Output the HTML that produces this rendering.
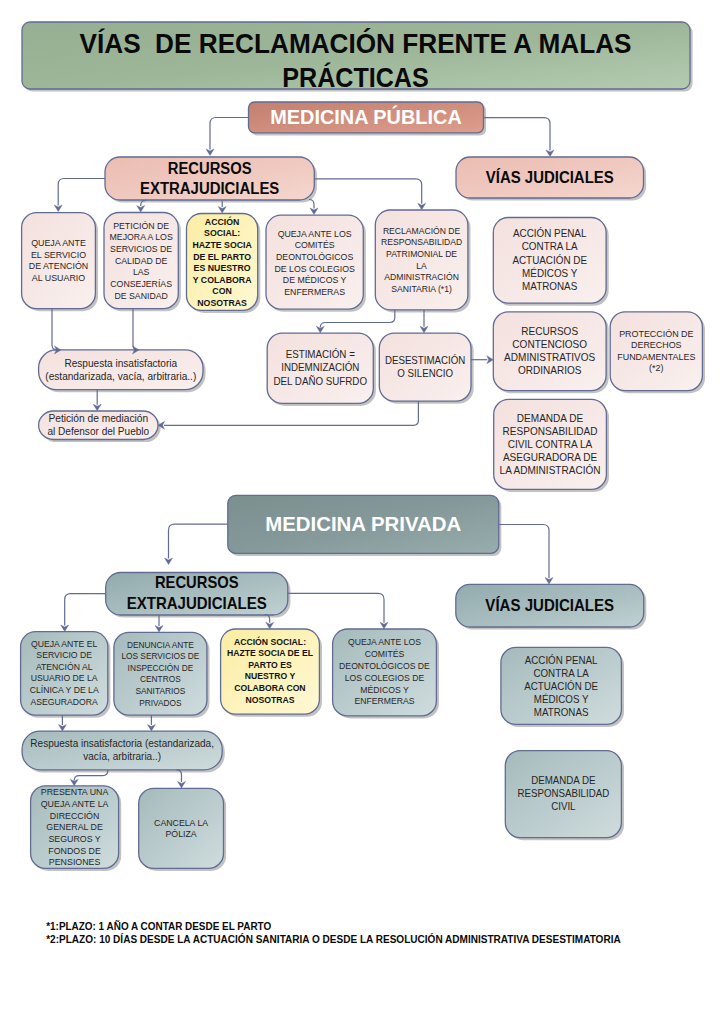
<!DOCTYPE html><html><head><meta charset="utf-8"><style>html,body{margin:0;padding:0;background:#fff;}svg{display:block;}text{font-family:"Liberation Sans",sans-serif;white-space:pre;}</style></head><body>
<svg width="724" height="1024" viewBox="0 0 724 1024">
<defs>
<linearGradient id="g_green" x1="0" y1="0" x2="1" y2="1"><stop offset="0" stop-color="#96af92"/><stop offset="0.5" stop-color="#9db698"/><stop offset="1" stop-color="#b4cbb1"/></linearGradient>
<linearGradient id="g_salmon" x1="0" y1="0" x2="1" y2="1"><stop offset="0" stop-color="#c5806f"/><stop offset="0.5" stop-color="#d08e7d"/><stop offset="1" stop-color="#de9e8c"/></linearGradient>
<linearGradient id="g_pink" x1="0" y1="0" x2="1" y2="1"><stop offset="0" stop-color="#ebbdb2"/><stop offset="0.5" stop-color="#efc8bf"/><stop offset="1" stop-color="#f4d7cf"/></linearGradient>
<linearGradient id="g_lpink" x1="0" y1="0" x2="1" y2="1"><stop offset="0" stop-color="#f4e1de"/><stop offset="0.5" stop-color="#f6e8e6"/><stop offset="1" stop-color="#f9f0ee"/></linearGradient>
<linearGradient id="g_yellow" x1="0" y1="0" x2="1" y2="1"><stop offset="0" stop-color="#fbeda3"/><stop offset="0.5" stop-color="#fdf3bb"/><stop offset="1" stop-color="#fff8d4"/></linearGradient>
<linearGradient id="g_slate" x1="0" y1="0" x2="1" y2="1"><stop offset="0" stop-color="#7c8f8f"/><stop offset="0.5" stop-color="#86999a"/><stop offset="1" stop-color="#98adad"/></linearGradient>
<linearGradient id="g_lslate" x1="0" y1="0" x2="1" y2="1"><stop offset="0" stop-color="#93abad"/><stop offset="0.5" stop-color="#a7bcbe"/><stop offset="1" stop-color="#c0d1d2"/></linearGradient>
<linearGradient id="g_sslate" x1="0" y1="0" x2="1" y2="1"><stop offset="0" stop-color="#a5babc"/><stop offset="0.5" stop-color="#bacbcd"/><stop offset="1" stop-color="#cfdcdd"/></linearGradient>
</defs>
<rect width="724" height="1024" fill="#ffffff"/>
<rect x="24.60" y="24.60" width="668.00" height="67.00" rx="8" fill="#c2c2c2"/>
<rect x="251.10" y="104.60" width="235.00" height="30.80" rx="6" fill="#c2c2c2"/>
<rect x="107.60" y="159.60" width="209.30" height="43.00" rx="15" fill="#c2c2c2"/>
<rect x="458.60" y="159.60" width="187.50" height="41.00" rx="14" fill="#c2c2c2"/>
<rect x="24.20" y="215.20" width="73.80" height="96.00" rx="15" fill="#c2c2c2"/>
<rect x="106.60" y="215.10" width="74.30" height="96.20" rx="15" fill="#c2c2c2"/>
<rect x="189.10" y="216.10" width="71.20" height="96.90" rx="15" fill="#c2c2c2"/>
<rect x="268.60" y="217.80" width="97.30" height="94.00" rx="15" fill="#c2c2c2"/>
<rect x="377.90" y="212.60" width="92.60" height="99.80" rx="15" fill="#c2c2c2"/>
<rect x="41.20" y="352.50" width="164.40" height="39.80" rx="18" fill="#c2c2c2"/>
<rect x="41.20" y="413.60" width="119.40" height="28.50" rx="15" fill="#c2c2c2"/>
<rect x="269.80" y="335.70" width="106.10" height="70.30" rx="15" fill="#c2c2c2"/>
<rect x="381.90" y="335.70" width="91.70" height="68.00" rx="15" fill="#c2c2c2"/>
<rect x="495.90" y="220.10" width="112.80" height="85.70" rx="15" fill="#c2c2c2"/>
<rect x="495.90" y="314.40" width="112.80" height="78.80" rx="15" fill="#c2c2c2"/>
<rect x="612.80" y="314.40" width="92.20" height="78.80" rx="15" fill="#c2c2c2"/>
<rect x="496.30" y="402.00" width="112.70" height="90.00" rx="15" fill="#c2c2c2"/>
<rect x="230.40" y="497.90" width="270.90" height="58.10" rx="8" fill="#c2c2c2"/>
<rect x="108.30" y="575.10" width="182.10" height="42.50" rx="15" fill="#c2c2c2"/>
<rect x="458.40" y="587.00" width="187.90" height="42.60" rx="14" fill="#c2c2c2"/>
<rect x="23.20" y="634.30" width="87.20" height="83.50" rx="15" fill="#c2c2c2"/>
<rect x="116.50" y="634.90" width="93.00" height="82.90" rx="15" fill="#c2c2c2"/>
<rect x="223.20" y="631.60" width="98.80" height="85.20" rx="15" fill="#c2c2c2"/>
<rect x="335.20" y="631.60" width="103.80" height="86.90" rx="15" fill="#c2c2c2"/>
<rect x="24.70" y="733.70" width="200.10" height="38.80" rx="18" fill="#c2c2c2"/>
<rect x="33.20" y="788.40" width="88.00" height="82.60" rx="15" fill="#c2c2c2"/>
<rect x="141.30" y="790.90" width="84.80" height="80.10" rx="15" fill="#c2c2c2"/>
<rect x="503.50" y="650.00" width="120.50" height="77.00" rx="15" fill="#c2c2c2"/>
<rect x="507.90" y="753.20" width="116.10" height="87.00" rx="15" fill="#c2c2c2"/>
<rect x="22.00" y="22.00" width="668.00" height="67.00" rx="8" fill="url(#g_green)" stroke="#626b92" stroke-width="1.3"/>
<text x="355.50" y="52.80" font-size="27.62" font-weight="bold" fill="#0a0a0a" text-anchor="middle" textLength="552.00" lengthAdjust="spacingAndGlyphs">VÍAS  DE RECLAMACIÓN FRENTE A MALAS</text>
<text x="355.50" y="87.10" font-size="27.62" font-weight="bold" fill="#0a0a0a" text-anchor="middle" textLength="146.50" lengthAdjust="spacingAndGlyphs">PRÁCTICAS</text>
<rect x="248.50" y="102.00" width="235.00" height="30.80" rx="6" fill="url(#g_salmon)" stroke="#626b92" stroke-width="1.3"/>
<text x="366.00" y="124.00" font-size="20.35" font-weight="bold" fill="#ffffff" text-anchor="middle" textLength="191.50" lengthAdjust="spacingAndGlyphs">MEDICINA PÚBLICA</text>
<rect x="105.00" y="157.00" width="209.30" height="43.00" rx="15" fill="url(#g_pink)" stroke="#626b92" stroke-width="1.3"/>
<text x="209.65" y="173.60" font-size="16.13" font-weight="bold" fill="#0a0a0a" text-anchor="middle" textLength="83.70" lengthAdjust="spacingAndGlyphs">RECURSOS</text>
<text x="209.65" y="193.50" font-size="16.13" font-weight="bold" fill="#0a0a0a" text-anchor="middle" textLength="139.30" lengthAdjust="spacingAndGlyphs">EXTRAJUDICIALES</text>
<rect x="456.00" y="157.00" width="187.50" height="41.00" rx="14" fill="url(#g_pink)" stroke="#626b92" stroke-width="1.3"/>
<text x="549.75" y="182.50" font-size="15.99" font-weight="bold" fill="#0a0a0a" text-anchor="middle" textLength="128.00" lengthAdjust="spacingAndGlyphs">VÍAS JUDICIALES</text>
<rect x="21.60" y="212.60" width="73.80" height="96.00" rx="15" fill="url(#g_lpink)" stroke="#626b92" stroke-width="1.3"/>
<text x="58.50" y="246.20" font-size="9.30" fill="#262626" text-anchor="middle" textLength="54.65" lengthAdjust="spacingAndGlyphs">QUEJA ANTE</text>
<text x="58.50" y="257.80" font-size="9.30" fill="#262626" text-anchor="middle" textLength="55.15" lengthAdjust="spacingAndGlyphs">EL SERVICIO</text>
<text x="58.50" y="269.40" font-size="9.30" fill="#262626" text-anchor="middle" textLength="59.40" lengthAdjust="spacingAndGlyphs">DE ATENCIÓN</text>
<text x="58.50" y="281.00" font-size="9.30" fill="#262626" text-anchor="middle" textLength="53.33" lengthAdjust="spacingAndGlyphs">AL USUARIO</text>
<rect x="104.00" y="212.50" width="74.30" height="96.20" rx="15" fill="url(#g_lpink)" stroke="#626b92" stroke-width="1.3"/>
<text x="141.15" y="228.70" font-size="9.30" fill="#262626" text-anchor="middle" textLength="55.89" lengthAdjust="spacingAndGlyphs">PETICIÓN DE</text>
<text x="141.15" y="240.38" font-size="9.30" fill="#262626" text-anchor="middle" textLength="63.20" lengthAdjust="spacingAndGlyphs">MEJORA A LOS</text>
<text x="141.15" y="252.06" font-size="9.30" fill="#262626" text-anchor="middle" textLength="62.06" lengthAdjust="spacingAndGlyphs">SERVICIOS DE</text>
<text x="141.15" y="263.74" font-size="9.30" fill="#262626" text-anchor="middle" textLength="52.50" lengthAdjust="spacingAndGlyphs">CALIDAD DE</text>
<text x="141.15" y="275.42" font-size="9.30" fill="#262626" text-anchor="middle" textLength="16.53" lengthAdjust="spacingAndGlyphs">LAS</text>
<text x="141.15" y="287.10" font-size="9.30" fill="#262626" text-anchor="middle" textLength="61.73" lengthAdjust="spacingAndGlyphs">CONSEJERÍAS</text>
<text x="141.15" y="298.78" font-size="9.30" fill="#262626" text-anchor="middle" textLength="53.47" lengthAdjust="spacingAndGlyphs">DE SANIDAD</text>
<rect x="186.50" y="213.50" width="71.20" height="96.90" rx="15" fill="url(#g_yellow)" stroke="#626b92" stroke-width="1.3"/>
<text x="222.10" y="224.90" font-size="9.45" font-weight="bold" fill="#111111" text-anchor="middle" textLength="34.57" lengthAdjust="spacingAndGlyphs">ACCIÓN</text>
<text x="222.10" y="236.47" font-size="9.45" font-weight="bold" fill="#111111" text-anchor="middle" textLength="36.03" lengthAdjust="spacingAndGlyphs">SOCIAL:</text>
<text x="222.10" y="248.04" font-size="9.45" font-weight="bold" fill="#111111" text-anchor="middle" textLength="59.40" lengthAdjust="spacingAndGlyphs">HAZTE SOCIA</text>
<text x="222.10" y="259.61" font-size="9.45" font-weight="bold" fill="#111111" text-anchor="middle" textLength="57.95" lengthAdjust="spacingAndGlyphs">DE EL PARTO</text>
<text x="222.10" y="271.18" font-size="9.45" font-weight="bold" fill="#111111" text-anchor="middle" textLength="56.97" lengthAdjust="spacingAndGlyphs">ES NUESTRO</text>
<text x="222.10" y="282.75" font-size="9.45" font-weight="bold" fill="#111111" text-anchor="middle" textLength="58.75" lengthAdjust="spacingAndGlyphs">Y COLABORA</text>
<text x="222.10" y="294.32" font-size="9.45" font-weight="bold" fill="#111111" text-anchor="middle" textLength="19.47" lengthAdjust="spacingAndGlyphs">CON</text>
<text x="222.10" y="305.89" font-size="9.45" font-weight="bold" fill="#111111" text-anchor="middle" textLength="49.66" lengthAdjust="spacingAndGlyphs">NOSOTRAS</text>
<rect x="266.00" y="215.20" width="97.30" height="94.00" rx="15" fill="url(#g_lpink)" stroke="#626b92" stroke-width="1.3"/>
<text x="314.65" y="236.80" font-size="9.30" fill="#262626" text-anchor="middle" textLength="74.00" lengthAdjust="spacingAndGlyphs">QUEJA ANTE LOS</text>
<text x="314.65" y="248.40" font-size="9.30" fill="#262626" text-anchor="middle" textLength="39.91" lengthAdjust="spacingAndGlyphs">COMITÉS</text>
<text x="314.65" y="260.00" font-size="9.30" fill="#262626" text-anchor="middle" textLength="77.23" lengthAdjust="spacingAndGlyphs">DEONTOLÓGICOS</text>
<text x="314.65" y="271.60" font-size="9.30" fill="#262626" text-anchor="middle" textLength="80.32" lengthAdjust="spacingAndGlyphs">DE LOS COLEGIOS</text>
<text x="314.65" y="283.20" font-size="9.30" fill="#262626" text-anchor="middle" textLength="63.61" lengthAdjust="spacingAndGlyphs">DE MÉDICOS Y</text>
<text x="314.65" y="294.80" font-size="9.30" fill="#262626" text-anchor="middle" textLength="60.84" lengthAdjust="spacingAndGlyphs">ENFERMERAS</text>
<rect x="375.30" y="210.00" width="92.60" height="99.80" rx="15" fill="url(#g_lpink)" stroke="#626b92" stroke-width="1.3"/>
<text x="421.60" y="233.80" font-size="9.30" fill="#262626" text-anchor="middle" textLength="77.37" lengthAdjust="spacingAndGlyphs">RECLAMACIÓN DE</text>
<text x="421.60" y="245.42" font-size="9.30" fill="#262626" text-anchor="middle" textLength="81.20" lengthAdjust="spacingAndGlyphs">RESPONSABILIDAD</text>
<text x="421.60" y="257.04" font-size="9.30" fill="#262626" text-anchor="middle" textLength="71.00" lengthAdjust="spacingAndGlyphs">PATRIMONIAL DE</text>
<text x="421.60" y="268.66" font-size="9.30" fill="#262626" text-anchor="middle" textLength="10.51" lengthAdjust="spacingAndGlyphs">LA</text>
<text x="421.60" y="280.28" font-size="9.30" fill="#262626" text-anchor="middle" textLength="74.49" lengthAdjust="spacingAndGlyphs">ADMINISTRACIÓN</text>
<text x="421.60" y="291.90" font-size="9.30" fill="#262626" text-anchor="middle" textLength="60.50" lengthAdjust="spacingAndGlyphs">SANITARIA (*1)</text>
<rect x="38.60" y="349.90" width="164.40" height="39.80" rx="18" fill="url(#g_lpink)" stroke="#626b92" stroke-width="1.3"/>
<text x="120.80" y="366.60" font-size="11.05" fill="#262626" text-anchor="middle" textLength="112.83" lengthAdjust="spacingAndGlyphs">Respuesta insatisfactoria</text>
<text x="120.80" y="379.60" font-size="11.05" fill="#262626" text-anchor="middle" textLength="151.00" lengthAdjust="spacingAndGlyphs">(estandarizada, vacía, arbitraria..)</text>
<rect x="38.60" y="411.00" width="119.40" height="28.50" rx="15" fill="url(#g_lpink)" stroke="#626b92" stroke-width="1.3"/>
<text x="98.30" y="422.20" font-size="11.05" fill="#262626" text-anchor="middle" textLength="99.70" lengthAdjust="spacingAndGlyphs">Petición de mediación</text>
<text x="98.30" y="435.20" font-size="11.05" fill="#262626" text-anchor="middle" textLength="101.80" lengthAdjust="spacingAndGlyphs">al Defensor del Pueblo</text>
<rect x="267.20" y="333.10" width="106.10" height="70.30" rx="15" fill="url(#g_lpink)" stroke="#626b92" stroke-width="1.3"/>
<text x="320.25" y="358.00" font-size="10.17" fill="#262626" text-anchor="middle" textLength="69.18" lengthAdjust="spacingAndGlyphs">ESTIMACIÓN =</text>
<text x="320.25" y="371.25" font-size="10.17" fill="#262626" text-anchor="middle" textLength="78.12" lengthAdjust="spacingAndGlyphs">INDEMNIZACIÓN</text>
<text x="320.25" y="384.50" font-size="10.17" fill="#262626" text-anchor="middle" textLength="93.50" lengthAdjust="spacingAndGlyphs">DEL DAÑO SUFRDO</text>
<rect x="379.30" y="333.10" width="91.70" height="68.00" rx="15" fill="url(#g_lpink)" stroke="#626b92" stroke-width="1.3"/>
<text x="425.15" y="364.00" font-size="10.17" fill="#262626" text-anchor="middle" textLength="80.50" lengthAdjust="spacingAndGlyphs">DESESTIMACIÓN</text>
<text x="425.15" y="376.90" font-size="10.17" fill="#262626" text-anchor="middle" textLength="55.65" lengthAdjust="spacingAndGlyphs">O SILENCIO</text>
<rect x="493.30" y="217.50" width="112.80" height="85.70" rx="15" fill="url(#g_lpink)" stroke="#626b92" stroke-width="1.3"/>
<text x="549.70" y="237.20" font-size="10.17" fill="#262626" text-anchor="middle" textLength="73.52" lengthAdjust="spacingAndGlyphs">ACCIÓN PENAL</text>
<text x="549.70" y="250.37" font-size="10.17" fill="#262626" text-anchor="middle" textLength="55.96" lengthAdjust="spacingAndGlyphs">CONTRA LA</text>
<text x="549.70" y="263.54" font-size="10.17" fill="#262626" text-anchor="middle" textLength="74.60" lengthAdjust="spacingAndGlyphs">ACTUACIÓN DE</text>
<text x="549.70" y="276.71" font-size="10.17" fill="#262626" text-anchor="middle" textLength="55.23" lengthAdjust="spacingAndGlyphs">MÉDICOS Y</text>
<text x="549.70" y="289.88" font-size="10.17" fill="#262626" text-anchor="middle" textLength="55.22" lengthAdjust="spacingAndGlyphs">MATRONAS</text>
<rect x="493.30" y="311.80" width="112.80" height="78.80" rx="15" fill="url(#g_lpink)" stroke="#626b92" stroke-width="1.3"/>
<text x="549.70" y="335.00" font-size="10.17" fill="#262626" text-anchor="middle" textLength="56.84" lengthAdjust="spacingAndGlyphs">RECURSOS</text>
<text x="549.70" y="348.00" font-size="10.17" fill="#262626" text-anchor="middle" textLength="74.67" lengthAdjust="spacingAndGlyphs">CONTENCIOSO</text>
<text x="549.70" y="361.00" font-size="10.17" fill="#262626" text-anchor="middle" textLength="91.20" lengthAdjust="spacingAndGlyphs">ADMINISTRATIVOS</text>
<text x="549.70" y="374.00" font-size="10.17" fill="#262626" text-anchor="middle" textLength="63.53" lengthAdjust="spacingAndGlyphs">ORDINARIOS</text>
<rect x="610.20" y="311.80" width="92.20" height="78.80" rx="15" fill="url(#g_lpink)" stroke="#626b92" stroke-width="1.3"/>
<text x="656.30" y="336.60" font-size="9.30" fill="#262626" text-anchor="middle" textLength="74.30" lengthAdjust="spacingAndGlyphs">PROTECCIÓN DE</text>
<text x="656.30" y="348.23" font-size="9.30" fill="#262626" text-anchor="middle" textLength="50.53" lengthAdjust="spacingAndGlyphs">DERECHOS</text>
<text x="656.30" y="359.86" font-size="9.30" fill="#262626" text-anchor="middle" textLength="78.10" lengthAdjust="spacingAndGlyphs">FUNDAMENTALES</text>
<text x="656.30" y="371.49" font-size="9.30" fill="#262626" text-anchor="middle" textLength="14.37" lengthAdjust="spacingAndGlyphs">(*2)</text>
<rect x="493.70" y="399.40" width="112.70" height="90.00" rx="15" fill="url(#g_lpink)" stroke="#626b92" stroke-width="1.3"/>
<text x="550.05" y="422.00" font-size="10.17" fill="#262626" text-anchor="middle" textLength="66.40" lengthAdjust="spacingAndGlyphs">DEMANDA DE</text>
<text x="550.05" y="434.98" font-size="10.17" fill="#262626" text-anchor="middle" textLength="94.87" lengthAdjust="spacingAndGlyphs">RESPONSABILIDAD</text>
<text x="550.05" y="447.96" font-size="10.17" fill="#262626" text-anchor="middle" textLength="84.45" lengthAdjust="spacingAndGlyphs">CIVIL CONTRA LA</text>
<text x="550.05" y="460.94" font-size="10.17" fill="#262626" text-anchor="middle" textLength="94.31" lengthAdjust="spacingAndGlyphs">ASEGURADORA DE</text>
<text x="550.05" y="473.92" font-size="10.17" fill="#262626" text-anchor="middle" textLength="101.00" lengthAdjust="spacingAndGlyphs">LA ADMINISTRACIÓN</text>
<rect x="227.80" y="495.30" width="270.90" height="58.10" rx="8" fill="url(#g_slate)" stroke="#626b92" stroke-width="1.3"/>
<text x="363.25" y="530.90" font-size="20.35" font-weight="bold" fill="#ffffff" text-anchor="middle" textLength="196.00" lengthAdjust="spacingAndGlyphs">MEDICINA PRIVADA</text>
<rect x="105.70" y="572.50" width="182.10" height="42.50" rx="15" fill="url(#g_lslate)" stroke="#626b92" stroke-width="1.3"/>
<text x="196.75" y="588.20" font-size="15.70" font-weight="bold" fill="#0a0a0a" text-anchor="middle" textLength="83.70" lengthAdjust="spacingAndGlyphs">RECURSOS</text>
<text x="196.75" y="608.80" font-size="15.70" font-weight="bold" fill="#0a0a0a" text-anchor="middle" textLength="140.00" lengthAdjust="spacingAndGlyphs">EXTRAJUDICIALES</text>
<rect x="455.80" y="584.40" width="187.90" height="42.60" rx="14" fill="url(#g_lslate)" stroke="#626b92" stroke-width="1.3"/>
<text x="549.75" y="610.70" font-size="15.99" font-weight="bold" fill="#0a0a0a" text-anchor="middle" textLength="128.80" lengthAdjust="spacingAndGlyphs">VÍAS JUDICIALES</text>
<rect x="20.60" y="631.70" width="87.20" height="83.50" rx="15" fill="url(#g_sslate)" stroke="#626b92" stroke-width="1.3"/>
<text x="64.20" y="646.80" font-size="9.30" fill="#262626" text-anchor="middle" textLength="66.42" lengthAdjust="spacingAndGlyphs">QUEJA ANTE EL</text>
<text x="64.20" y="658.36" font-size="9.30" fill="#262626" text-anchor="middle" textLength="55.67" lengthAdjust="spacingAndGlyphs">SERVICIO DE</text>
<text x="64.20" y="669.92" font-size="9.30" fill="#262626" text-anchor="middle" textLength="56.63" lengthAdjust="spacingAndGlyphs">ATENCIÓN AL</text>
<text x="64.20" y="681.48" font-size="9.30" fill="#262626" text-anchor="middle" textLength="66.90" lengthAdjust="spacingAndGlyphs">USUARIO DE LA</text>
<text x="64.20" y="693.04" font-size="9.30" fill="#262626" text-anchor="middle" textLength="69.00" lengthAdjust="spacingAndGlyphs">CLÍNICA Y DE LA</text>
<text x="64.20" y="704.60" font-size="9.30" fill="#262626" text-anchor="middle" textLength="67.38" lengthAdjust="spacingAndGlyphs">ASEGURADORA</text>
<rect x="113.90" y="632.30" width="93.00" height="82.90" rx="15" fill="url(#g_sslate)" stroke="#626b92" stroke-width="1.3"/>
<text x="160.40" y="647.50" font-size="9.30" fill="#262626" text-anchor="middle" textLength="67.05" lengthAdjust="spacingAndGlyphs">DENUNCIA ANTE</text>
<text x="160.40" y="659.10" font-size="9.30" fill="#262626" text-anchor="middle" textLength="78.00" lengthAdjust="spacingAndGlyphs">LOS SERVICIOS DE</text>
<text x="160.40" y="670.70" font-size="9.30" fill="#262626" text-anchor="middle" textLength="65.66" lengthAdjust="spacingAndGlyphs">INSPECCIÓN DE</text>
<text x="160.40" y="682.30" font-size="9.30" fill="#262626" text-anchor="middle" textLength="40.68" lengthAdjust="spacingAndGlyphs">CENTROS</text>
<text x="160.40" y="693.90" font-size="9.30" fill="#262626" text-anchor="middle" textLength="49.78" lengthAdjust="spacingAndGlyphs">SANITARIOS</text>
<text x="160.40" y="705.50" font-size="9.30" fill="#262626" text-anchor="middle" textLength="42.39" lengthAdjust="spacingAndGlyphs">PRIVADOS</text>
<rect x="220.60" y="629.00" width="98.80" height="85.20" rx="15" fill="url(#g_yellow)" stroke="#626b92" stroke-width="1.3"/>
<text x="270.00" y="644.60" font-size="9.45" font-weight="bold" fill="#111111" text-anchor="middle" textLength="72.09" lengthAdjust="spacingAndGlyphs">ACCIÓN SOCIAL:</text>
<text x="270.00" y="656.20" font-size="9.45" font-weight="bold" fill="#111111" text-anchor="middle" textLength="86.20" lengthAdjust="spacingAndGlyphs">HAZTE SOCIA DE EL</text>
<text x="270.00" y="667.80" font-size="9.45" font-weight="bold" fill="#111111" text-anchor="middle" textLength="43.43" lengthAdjust="spacingAndGlyphs">PARTO ES</text>
<text x="270.00" y="679.40" font-size="9.45" font-weight="bold" fill="#111111" text-anchor="middle" textLength="50.32" lengthAdjust="spacingAndGlyphs">NUESTRO Y</text>
<text x="270.00" y="691.00" font-size="9.45" font-weight="bold" fill="#111111" text-anchor="middle" textLength="71.29" lengthAdjust="spacingAndGlyphs">COLABORA CON</text>
<text x="270.00" y="702.60" font-size="9.45" font-weight="bold" fill="#111111" text-anchor="middle" textLength="49.03" lengthAdjust="spacingAndGlyphs">NOSOTRAS</text>
<rect x="332.60" y="629.00" width="103.80" height="86.90" rx="15" fill="url(#g_sslate)" stroke="#626b92" stroke-width="1.3"/>
<text x="384.50" y="645.30" font-size="9.30" fill="#262626" text-anchor="middle" textLength="73.17" lengthAdjust="spacingAndGlyphs">QUEJA ANTE LOS</text>
<text x="384.50" y="657.10" font-size="9.30" fill="#262626" text-anchor="middle" textLength="39.46" lengthAdjust="spacingAndGlyphs">COMITÉS</text>
<text x="384.50" y="668.90" font-size="9.30" fill="#262626" text-anchor="middle" textLength="90.80" lengthAdjust="spacingAndGlyphs">DEONTOLÓGICOS DE</text>
<text x="384.50" y="680.70" font-size="9.30" fill="#262626" text-anchor="middle" textLength="79.42" lengthAdjust="spacingAndGlyphs">LOS COLEGIOS DE</text>
<text x="384.50" y="692.50" font-size="9.30" fill="#262626" text-anchor="middle" textLength="48.45" lengthAdjust="spacingAndGlyphs">MÉDICOS Y</text>
<text x="384.50" y="704.30" font-size="9.30" fill="#262626" text-anchor="middle" textLength="60.16" lengthAdjust="spacingAndGlyphs">ENFERMERAS</text>
<rect x="22.10" y="731.10" width="200.10" height="38.80" rx="18" fill="url(#g_sslate)" stroke="#626b92" stroke-width="1.3"/>
<text x="122.15" y="747.00" font-size="11.05" fill="#262626" text-anchor="middle" textLength="183.60" lengthAdjust="spacingAndGlyphs">Respuesta insatisfactoria (estandarizada,</text>
<text x="122.15" y="760.40" font-size="11.05" fill="#262626" text-anchor="middle" textLength="77.87" lengthAdjust="spacingAndGlyphs">vacía, arbitraria..)</text>
<rect x="30.60" y="785.80" width="88.00" height="82.60" rx="15" fill="url(#g_sslate)" stroke="#626b92" stroke-width="1.3"/>
<text x="74.60" y="795.30" font-size="9.30" fill="#262626" text-anchor="middle" textLength="67.53" lengthAdjust="spacingAndGlyphs">PRESENTA UNA</text>
<text x="74.60" y="806.95" font-size="9.30" fill="#262626" text-anchor="middle" textLength="67.70" lengthAdjust="spacingAndGlyphs">QUEJA ANTE LA</text>
<text x="74.60" y="818.60" font-size="9.30" fill="#262626" text-anchor="middle" textLength="49.53" lengthAdjust="spacingAndGlyphs">DIRECCIÓN</text>
<text x="74.60" y="830.25" font-size="9.30" fill="#262626" text-anchor="middle" textLength="56.58" lengthAdjust="spacingAndGlyphs">GENERAL DE</text>
<text x="74.60" y="841.90" font-size="9.30" fill="#262626" text-anchor="middle" textLength="52.33" lengthAdjust="spacingAndGlyphs">SEGUROS Y</text>
<text x="74.60" y="853.55" font-size="9.30" fill="#262626" text-anchor="middle" textLength="52.48" lengthAdjust="spacingAndGlyphs">FONDOS DE</text>
<text x="74.60" y="865.20" font-size="9.30" fill="#262626" text-anchor="middle" textLength="51.51" lengthAdjust="spacingAndGlyphs">PENSIONES</text>
<rect x="138.70" y="788.30" width="84.80" height="80.10" rx="15" fill="url(#g_sslate)" stroke="#626b92" stroke-width="1.3"/>
<text x="181.10" y="825.50" font-size="9.30" fill="#262626" text-anchor="middle" textLength="54.00" lengthAdjust="spacingAndGlyphs">CANCELA LA</text>
<text x="181.10" y="837.20" font-size="9.30" fill="#262626" text-anchor="middle" textLength="31.13" lengthAdjust="spacingAndGlyphs">PÓLIZA</text>
<rect x="500.90" y="647.40" width="120.50" height="77.00" rx="15" fill="url(#g_sslate)" stroke="#626b92" stroke-width="1.3"/>
<text x="561.15" y="663.50" font-size="10.17" fill="#262626" text-anchor="middle" textLength="72.73" lengthAdjust="spacingAndGlyphs">ACCIÓN PENAL</text>
<text x="561.15" y="676.50" font-size="10.17" fill="#262626" text-anchor="middle" textLength="55.36" lengthAdjust="spacingAndGlyphs">CONTRA LA</text>
<text x="561.15" y="689.50" font-size="10.17" fill="#262626" text-anchor="middle" textLength="73.80" lengthAdjust="spacingAndGlyphs">ACTUACIÓN DE</text>
<text x="561.15" y="702.50" font-size="10.17" fill="#262626" text-anchor="middle" textLength="54.63" lengthAdjust="spacingAndGlyphs">MÉDICOS Y</text>
<text x="561.15" y="715.50" font-size="10.17" fill="#262626" text-anchor="middle" textLength="54.62" lengthAdjust="spacingAndGlyphs">MATRONAS</text>
<rect x="505.30" y="750.60" width="116.10" height="87.00" rx="15" fill="url(#g_sslate)" stroke="#626b92" stroke-width="1.3"/>
<text x="563.35" y="784.40" font-size="10.17" fill="#262626" text-anchor="middle" textLength="64.25" lengthAdjust="spacingAndGlyphs">DEMANDA DE</text>
<text x="563.35" y="797.35" font-size="10.17" fill="#262626" text-anchor="middle" textLength="91.80" lengthAdjust="spacingAndGlyphs">RESPONSABILIDAD</text>
<text x="563.35" y="810.30" font-size="10.17" fill="#262626" text-anchor="middle" textLength="24.30" lengthAdjust="spacingAndGlyphs">CIVIL</text>
<path d="M248.5,117.5 H216 Q210,117.5 210,123.5 V149.5" fill="none" stroke="#626b92" stroke-width="1.2"/>
<path d="M483.5,117.6 H544 Q550,117.6 550,123.6 V150.5" fill="none" stroke="#626b92" stroke-width="1.2"/>
<path d="M105,178.5 H64.2 Q58.2,178.5 58.2,184.5 V205.5" fill="none" stroke="#626b92" stroke-width="1.2"/>
<path d="M145.7,200.5 Q140.7,200.5 140.7,205.5 V206" fill="none" stroke="#626b92" stroke-width="1.2"/>
<path d="M222.2,200.5 V207" fill="none" stroke="#626b92" stroke-width="1.2"/>
<path d="M309,199.5 Q314,199.5 314,204.5 V208.5" fill="none" stroke="#626b92" stroke-width="1.2"/>
<path d="M314.3,178.8 H415.7 Q421.7,178.8 421.7,184.8 V203.8" fill="none" stroke="#626b92" stroke-width="1.2"/>
<path d="M52,308.6 V344.9 Q52,349.9 57,349.9 H56" fill="none" stroke="#626b92" stroke-width="1.2"/>
<path d="M133,308.7 V344.9 Q133,349.9 138,349.9 H134" fill="none" stroke="#626b92" stroke-width="1.2"/>
<path d="M97.2,389.7 V404.8" fill="none" stroke="#626b92" stroke-width="1.2"/>
<path d="M394.8,309.8 V317.5 Q394.8,322.5 389.8,322.5 H325.3 Q320.3,322.5 320.3,327.5 V326.8" fill="none" stroke="#626b92" stroke-width="1.2"/>
<path d="M424,309.8 V326.8" fill="none" stroke="#626b92" stroke-width="1.2"/>
<path d="M471,359.7 H487.3" fill="none" stroke="#626b92" stroke-width="1.2"/>
<path d="M418.4,401.1 V420.3 Q418.4,425.3 413.4,425.3 H164" fill="none" stroke="#626b92" stroke-width="1.2"/>
<path d="M227.8,524.2 H174.5 Q168.5,524.2 168.5,530.2 V558.5" fill="none" stroke="#626b92" stroke-width="1.2"/>
<path d="M498.7,524.5 H543 Q549,524.5 549,530.5 V578" fill="none" stroke="#626b92" stroke-width="1.2"/>
<path d="M105.7,593.7 H70.7 Q64.7,593.7 64.7,599.7 V625.5" fill="none" stroke="#626b92" stroke-width="1.2"/>
<path d="M159,615 V626" fill="none" stroke="#626b92" stroke-width="1.2"/>
<path d="M264.7,614.5 Q269.7,614.5 269.7,619.5 V622.8" fill="none" stroke="#626b92" stroke-width="1.2"/>
<path d="M287.8,593.3 H378 Q384,593.3 384,599.3 V622.8" fill="none" stroke="#626b92" stroke-width="1.2"/>
<path d="M62.4,715.2 V725" fill="none" stroke="#626b92" stroke-width="1.2"/>
<path d="M151.4,715.2 V725" fill="none" stroke="#626b92" stroke-width="1.2"/>
<path d="M107.8,769.9 V770.6 Q107.8,775.6 102.8,775.6 H79.2 Q74.2,775.6 74.2,780.6 V779.8" fill="none" stroke="#626b92" stroke-width="1.2"/>
<path d="M176.5,769.9 Q181.5,769.9 181.5,774.9 V782" fill="none" stroke="#626b92" stroke-width="1.2"/>
<path d="M210.00,155.50 L206.00,149.00 L210.00,150.90 L214.00,149.00 Z" fill="#626b92" stroke="#626b92" stroke-width="0.4"/>
<path d="M550.00,156.50 L546.00,150.00 L550.00,151.90 L554.00,150.00 Z" fill="#626b92" stroke="#626b92" stroke-width="0.4"/>
<path d="M58.20,211.50 L54.20,205.00 L58.20,206.90 L62.20,205.00 Z" fill="#626b92" stroke="#626b92" stroke-width="0.4"/>
<path d="M140.70,212.00 L136.70,205.50 L140.70,207.40 L144.70,205.50 Z" fill="#626b92" stroke="#626b92" stroke-width="0.4"/>
<path d="M222.20,213.00 L218.20,206.50 L222.20,208.40 L226.20,206.50 Z" fill="#626b92" stroke="#626b92" stroke-width="0.4"/>
<path d="M314.00,214.50 L310.00,208.00 L314.00,209.90 L318.00,208.00 Z" fill="#626b92" stroke="#626b92" stroke-width="0.4"/>
<path d="M421.70,209.80 L417.70,203.30 L421.70,205.20 L425.70,203.30 Z" fill="#626b92" stroke="#626b92" stroke-width="0.4"/>
<path d="M61.00,349.90 L54.50,345.90 L56.40,349.90 L54.50,353.90 Z" fill="#626b92" stroke="#626b92" stroke-width="0.4"/>
<path d="M139.00,349.90 L132.50,345.90 L134.40,349.90 L132.50,353.90 Z" fill="#626b92" stroke="#626b92" stroke-width="0.4"/>
<path d="M97.20,410.80 L93.20,404.30 L97.20,406.20 L101.20,404.30 Z" fill="#626b92" stroke="#626b92" stroke-width="0.4"/>
<path d="M320.30,332.80 L316.30,326.30 L320.30,328.20 L324.30,326.30 Z" fill="#626b92" stroke="#626b92" stroke-width="0.4"/>
<path d="M424.00,332.80 L420.00,326.30 L424.00,328.20 L428.00,326.30 Z" fill="#626b92" stroke="#626b92" stroke-width="0.4"/>
<path d="M493.30,359.70 L486.80,355.70 L488.70,359.70 L486.80,363.70 Z" fill="#626b92" stroke="#626b92" stroke-width="0.4"/>
<path d="M158.00,425.30 L164.50,421.30 L162.60,425.30 L164.50,429.30 Z" fill="#626b92" stroke="#626b92" stroke-width="0.4"/>
<path d="M168.50,564.50 L164.50,558.00 L168.50,559.90 L172.50,558.00 Z" fill="#626b92" stroke="#626b92" stroke-width="0.4"/>
<path d="M549.00,584.00 L545.00,577.50 L549.00,579.40 L553.00,577.50 Z" fill="#626b92" stroke="#626b92" stroke-width="0.4"/>
<path d="M64.70,631.50 L60.70,625.00 L64.70,626.90 L68.70,625.00 Z" fill="#626b92" stroke="#626b92" stroke-width="0.4"/>
<path d="M159.00,632.00 L155.00,625.50 L159.00,627.40 L163.00,625.50 Z" fill="#626b92" stroke="#626b92" stroke-width="0.4"/>
<path d="M269.70,628.80 L265.70,622.30 L269.70,624.20 L273.70,622.30 Z" fill="#626b92" stroke="#626b92" stroke-width="0.4"/>
<path d="M384.00,628.80 L380.00,622.30 L384.00,624.20 L388.00,622.30 Z" fill="#626b92" stroke="#626b92" stroke-width="0.4"/>
<path d="M62.40,731.00 L58.40,724.50 L62.40,726.40 L66.40,724.50 Z" fill="#626b92" stroke="#626b92" stroke-width="0.4"/>
<path d="M151.40,731.00 L147.40,724.50 L151.40,726.40 L155.40,724.50 Z" fill="#626b92" stroke="#626b92" stroke-width="0.4"/>
<path d="M74.20,785.80 L70.20,779.30 L74.20,781.20 L78.20,779.30 Z" fill="#626b92" stroke="#626b92" stroke-width="0.4"/>
<path d="M181.50,788.00 L177.50,781.50 L181.50,783.40 L185.50,781.50 Z" fill="#626b92" stroke="#626b92" stroke-width="0.4"/>
<text x="46.2" y="929.7" font-size="10.17" font-weight="bold" fill="#0a0a0a" textLength="225" lengthAdjust="spacingAndGlyphs">*1:PLAZO: 1 AÑO A CONTAR DESDE EL PARTO</text>
<text x="46.2" y="942.6" font-size="10.17" font-weight="bold" fill="#0a0a0a" textLength="574.5" lengthAdjust="spacingAndGlyphs">*2:PLAZO: 10 DÍAS DESDE LA ACTUACIÓN SANITARIA O DESDE LA RESOLUCIÓN ADMINISTRATIVA DESESTIMATORIA</text>
</svg></body></html>
